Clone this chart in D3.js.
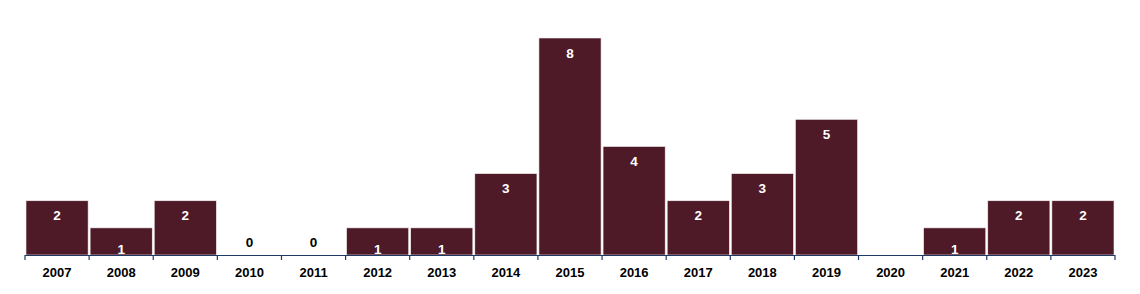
<!DOCTYPE html>
<html>
<head>
<meta charset="utf-8">
<script src="https://cdn.jsdelivr.net/npm/d3@7"></script>
<style>
  body { margin: 0; background: #fff; }
  text { font-family: "Liberation Sans", Arial, sans-serif; font-weight: bold; }
</style>
</head>
<body>
<div id="chart"></div>
<script>
// Data
const years = ["2007", "2008", "2009", "2010", "2011", "2012", "2013", "2014", "2015",
  "2016", "2017", "2018", "2019", "2020", "2021", "2022", "2023"];
const counts = [2, 1, 2, 0, 0, 1, 1, 3, 8, 4, 2, 3, 5, null, 1, 2, 2];

const width = 1140, height = 294;
const margin = { top: 38, right: 25, bottom: 39, left: 25 };
const baseY = height - margin.bottom;

const data = years.map((y, i) => ({ year: y, value: counts[i] }));

const svg = d3.select("#chart")
  .append("svg")
  .attr("width", width)
  .attr("height", height);

const x = d3.scaleBand()
  .domain(years)
  .range([margin.left, width - margin.right])
  .padding(0);

const y = d3.scaleLinear()
  .domain([0, 8])
  .range([baseY, margin.top]);

// Bars
svg.selectAll("rect.bar")
  .data(data.filter(d => d.value > 0))
  .enter()
  .append("rect")
  .attr("class", "bar")
  .attr("x", d => x(d.year) + 1)
  .attr("y", d => y(d.value))
  .attr("width", x.bandwidth() - 2)
  .attr("height", d => baseY - y(d.value))
  .attr("fill", "#4e1a28")
  .attr("stroke", "#f4eef0")
  .attr("stroke-width", 0.6);

// Value labels
svg.selectAll("text.val")
  .data(data.filter(d => d.value !== null))
  .enter()
  .append("text")
  .attr("class", "val")
  .attr("x", d => x(d.year) + x.bandwidth() / 2)
  .attr("y", d => {
    if (d.value === 0) return baseY - 13;
    if (d.value === 1) return y(d.value) + 21;
    return y(d.value) + 15;
  })
  .attr("dy", "0.35em")
  .attr("text-anchor", "middle")
  .attr("font-size", 13.5)
  .attr("fill", d => d.value === 0 ? "#000" : "#fff")
  .text(d => d.value);

// X axis with ticks on band edges
const axis = svg.append("g").attr("class", "x-axis");
axis.append("line")
  .attr("x1", x.range()[0])
  .attr("x2", x.range()[1])
  .attr("y1", baseY + 0.5)
  .attr("y2", baseY + 0.5)
  .attr("stroke", "#1f3864")
  .attr("stroke-width", 1.2);

const edges = years.map(d => x(d)).concat([x.range()[1]]);
axis.selectAll("line.tick")
  .data(edges)
  .enter()
  .append("line")
  .attr("class", "tick")
  .attr("x1", d => d)
  .attr("x2", d => d)
  .attr("y1", baseY)
  .attr("y2", baseY + 5)
  .attr("stroke", "#1f3864")
  .attr("stroke-width", 1.2);

axis.selectAll("text")
  .data(years)
  .enter()
  .append("text")
  .attr("x", d => x(d) + x.bandwidth() / 2)
  .attr("y", baseY + 17)
  .attr("dy", "0.35em")
  .attr("text-anchor", "middle")
  .attr("font-size", 13)
  .attr("fill", "#000")
  .text(d => d);
</script>
</body>
</html>
